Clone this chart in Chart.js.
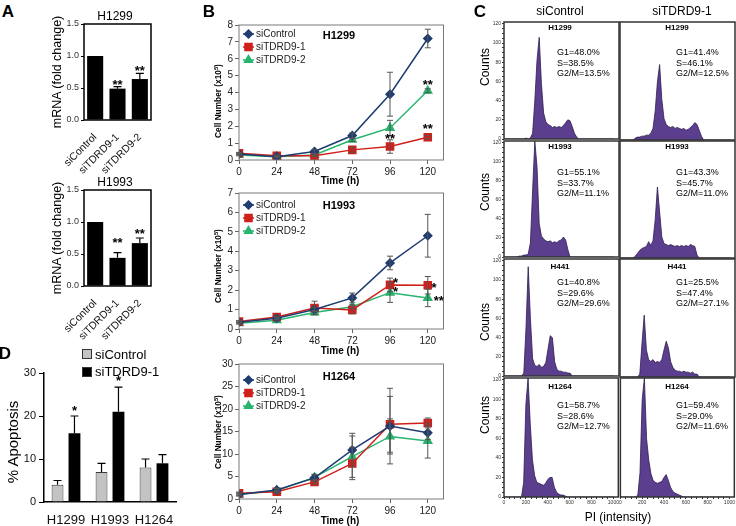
<!DOCTYPE html>
<html>
<head>
<meta charset="utf-8">
<script src="https://cdn.jsdelivr.net/npm/chart.js@4.4.1/dist/chart.umd.min.js"></script>
<style>
  html, body { margin: 0; background: #fff; }
  #page { position: relative; width: 736px; height: 526px; overflow: hidden; font-family: "Liberation Sans", Arial, sans-serif; color: #000; }
  .lbl { position: absolute; white-space: nowrap; line-height: 1; transform: translate(-50%, -50%); }
  .lbl sup { font-size: 70%; vertical-align: 0.5em; line-height: 0; }
  .sq { position: absolute; width: 8px; height: 8px; border: 1px solid #333; }
</style>
</head>
<body>
<div id="page"></div>
<script>
// ---- A: TDRD9 mRNA after knockdown ----
const mrnaLabels = ["siControl", "siTDRD9-1", "siTDRD9-2"];
const mrnaTicks = [0, 0.5, 1.0, 1.5];
const mrnaH1299 = [1.0, 0.49, 0.64];
const mrnaH1299Err = [0, 0.03, 0.09];
const mrnaH1993 = [1.0, 0.44, 0.67];
const mrnaH1993Err = [0, 0.08, 0.08];

// ---- B: growth curves (cell number x10^5) ----
const seriesNames = ["siControl", "siTDRD9-1", "siTDRD9-2"];
const timePoints = [0, 24, 48, 72, 96, 120];
const h1299Control = [0.35, 0.2, 0.5, 1.45, 3.9, 7.2];
const h1299ControlErr = [0.05, 0.05, 0.1, 0.15, 1.3, 0.55];
const h1299Si1 = [0.4, 0.25, 0.25, 0.6, 0.8, 1.35];
const h1299Si1Err = [0.05, 0.05, 0.05, 0.15, 0.4, 0.1];
const h1299Si2 = [0.3, 0.2, 0.3, 1.2, 1.9, 4.1];
const h1299Si2Err = [0.05, 0.05, 0.05, 0.1, 0.45, 0.12];

const h1993Control = [0.35, 0.55, 1.0, 1.6, 3.4, 4.8];
const h1993ControlErr = [0.05, 0.05, 0.1, 0.25, 0.35, 1.1];
const h1993Si1 = [0.38, 0.62, 1.08, 0.98, 2.27, 2.25];
const h1993Si1Err = [0.05, 0.05, 0.35, 0.2, 0.35, 0.45];
const h1993Si2 = [0.3, 0.45, 0.85, 1.15, 1.87, 1.6];
const h1993Si2Err = [0.05, 0.05, 0.1, 0.1, 0.5, 0.45];

const h1264Control = [1.0, 2.0, 4.7, 10.9, 16.2, 14.7];
const h1264ControlErr = [0.3, 0.4, 0.7, 3.7, 8.4, 1.5];
const h1264Si1 = [1.25, 1.6, 3.8, 7.9, 16.6, 16.9];
const h1264Si1Err = [0.3, 0.3, 0.5, 3.6, 6.2, 1.1];
const h1264Si2 = [1.0, 1.9, 4.8, 9.4, 13.9, 12.9];
const h1264Si2Err = [0.3, 0.4, 0.7, 4.6, 3.9, 3.8];

// ---- C: cell cycle histograms, counts per PI bin ----
const cellLines = ["H1299", "H1993", "H441", "H1264"];
const piBins = [0,20,40,60,80,100,120,140,160,180,200,220,240,260,280,300,320,340,360,380,400,420,440,460,480,500,
  520,540,560,580,600,620,640,660,680,700,720,740,760,780,800,820,840,860,880,900,920,940,960,980,1000];
const histH1299Ctrl = [0,0,0,0,0,0,0,0,0,0, 1,0,1,6,40,82,106,58,27,18, 15,14,12,13,12,13,12,14,17,20,
  19,13,6,2,0,0,0,0,0,0, 0,0,0,0,0,0,0,0,0,0, 0];
const histH1299Si = [0,0,0,0,0,0,0,2,3,3, 4,4,5,5,7,12,30,60,78,42, 22,16,14,13,14,12,13,12,11,12,
  10,11,13,15,18,16,10,4,0,0, 0,0,0,0,0,0,0,0,0,0, 0];
const histH1993Ctrl = [0,0,0,0,0,0,0,1,1,2, 2,3,15,70,122,95,35,22,19,17, 16,17,15,16,15,17,18,21,18,8,
  0,0,0,0,0,0,0,0,0,0, 0,0,0,0,0,0,0,0,0,0, 0];
const histH1993Si = [0,0,0,0,0,0,0,2,5,8, 10,11,12,17,13,18,40,74,48,22, 15,14,13,14,13,12,13,12,13,12,
  13,12,14,13,12,3,0,0,0,0, 0,0,0,0,0,0,0,0,0,0, 0];
const histH441Ctrl = [0,0,0,0,0,0,0,0,0,3, 50,114,60,18,11,10,12,9,10,14, 28,42,40,15,7,5,5,4,4,3,
  3,0,0,0,0,0,0,0,0,0, 0,0,0,0,0,0,0,0,0,0, 0];
const histH441Si = [0,0,0,0,0,0,0,0,0,3, 35,64,28,18,16,18,15,16,15,18, 28,37,30,16,10,7,6,6,5,6,
  5,5,4,5,3,3,0,0,0,0, 0,0,0,0,0,0,0,0,0,0, 0];
const histH1264Ctrl = [0,0,0,0,0,0,0,0,0,15, 95,122,75,38,22,15,14,13,12,14, 18,20,20,10,5,3,2,2,1,0,
  0,0,0,0,0,0,0,0,0,0, 0,0,0,0,0,0,0,0,0,0, 0];
const histH1264Si = [0,0,0,0,0,0,0,0,2,25, 100,122,60,38,24,17,15,14,15,16, 20,23,17,10,6,4,3,2,1,0,
  0,0,0,0,0,0,0,0,0,0, 0,0,0,0,0,0,0,0,0,0, 0];
const g1Ctrl = [48.0, 55.1, 40.8, 58.7];
const sCtrl = [38.5, 33.7, 29.6, 28.6];
const g2mCtrl = [13.5, 11.1, 29.6, 12.7];
const g1Si = [41.4, 43.3, 25.5, 59.4];
const sSi = [46.1, 45.7, 47.4, 29.0];
const g2mSi = [12.5, 11.0, 27.1, 11.6];

// ---- D: apoptosis ----
const apopLines = ["H1299", "H1993", "H1264"];
const apopCtrl = [4, 7, 8];
const apopCtrlErr = [1, 2, 2];
const apopSi = [16, 21, 9];
const apopSiErr = [4, 5.7, 2];

const FONT = '"Liberation Sans", Arial, sans-serif';
Chart.defaults.font.family = FONT;
Chart.defaults.color = '#111';
Chart.defaults.animation = false;
Chart.defaults.plugins.legend.display = false;
Chart.defaults.plugins.tooltip.enabled = false;

const page = document.getElementById('page');

// box around the plot area
const framePlugin = {
  id: 'frame',
  afterDatasetsDraw(chart, args, opts) {
    if (!opts.color) return;
    const a = chart.chartArea, ctx = chart.ctx;
    ctx.save();
    ctx.strokeStyle = opts.color;
    ctx.lineWidth = opts.width || 1;
    ctx.strokeRect(a.left, a.top, a.right - a.left, a.bottom - a.top);
    ctx.restore();
  }
};

const errorBarPlugin = {
  id: 'errorBars',
  afterDatasetsDraw(chart, args, opts) {
    if (!opts.cap) return;
    const ctx = chart.ctx, y = chart.scales.y;
    chart.data.datasets.forEach((ds, i) => {
      if (!ds.errors) return;
      const meta = chart.getDatasetMeta(i);
      ctx.save();
      ctx.strokeStyle = opts.color;
      ctx.lineWidth = opts.width;
      meta.data.forEach((el, j) => {
        const err = ds.errors[j];
        if (!err) return;
        const d = ds.data[j];
        const v = typeof d === 'object' ? d.y : d;
        const top = y.getPixelForValue(v + err);
        const bottom = y.getPixelForValue(opts.upOnly ? v : v - err);
        ctx.beginPath();
        ctx.moveTo(el.x, bottom); ctx.lineTo(el.x, top);
        ctx.moveTo(el.x - opts.cap, top); ctx.lineTo(el.x + opts.cap, top);
        if (!opts.upOnly) { ctx.moveTo(el.x - opts.cap, bottom); ctx.lineTo(el.x + opts.cap, bottom); }
        ctx.stroke();
      });
      ctx.restore();
    });
  }
};

// significance asterisks, placed in data units
const starPlugin = {
  id: 'stars',
  afterDraw(chart, args, opts) {
    if (!opts.items) return;
    const ctx = chart.ctx, size = opts.size || 13;
    ctx.save();
    ctx.font = `bold ${size}px ${FONT}`;
    ctx.fillStyle = '#000';
    ctx.textAlign = 'center';
    ctx.textBaseline = 'alphabetic';
    opts.items.forEach(s => {
      const x = s.ds !== undefined ? chart.getDatasetMeta(s.ds).data[s.i].x : chart.scales.x.getPixelForValue(s.x);
      const y = chart.scales.y.getPixelForValue(s.y);
      ctx.fillText(s.text, x, y + size * 0.55);
    });
    ctx.restore();
  }
};

// legend drawn inside the plot area (panel B)
const lineLegendPlugin = {
  id: 'lineLegend',
  afterDraw(chart, args, opts) {
    if (opts.top === undefined) return;
    const ctx = chart.ctx, a = chart.chartArea;
    ctx.save();
    ctx.font = `10px ${FONT}`;
    ctx.textBaseline = 'middle';
    chart.data.datasets.forEach((ds, k) => {
      const y = a.top + opts.top + k * opts.gap;
      const x0 = a.left + opts.left;
      ctx.strokeStyle = ds.borderColor;
      ctx.lineWidth = 1.5;
      ctx.beginPath(); ctx.moveTo(x0, y); ctx.lineTo(x0 + 11, y); ctx.stroke();
      ctx.fillStyle = ds.borderColor;
      Chart.helpers.drawPoint(ctx, { pointStyle: ds.pointStyle, radius: ds.pointRadius, rotation: 0, borderWidth: 1 }, x0 + 5.5, y);
      ctx.fillStyle = '#222';
      ctx.fillText(ds.label, x0 + 13, y);
    });
    ctx.restore();
  }
};

Chart.register(framePlugin, errorBarPlugin, starPlugin, lineLegendPlugin);

// put a chart on the page so that its plot area lands on `area` ([l, t, r, b])
function place(box, area, cfg) {
  const [bl, bt, bw, bh] = box;
  const [al, at, ar, ab] = area;
  const wrap = document.createElement('div');
  wrap.style.cssText = `position:absolute;left:${bl}px;top:${bt}px;width:${bw}px;height:${bh}px`;
  const cv = document.createElement('canvas');
  cv.width = bw; cv.height = bh;
  wrap.appendChild(cv);
  page.appendChild(wrap);
  const sx = cfg.options.scales.x, sy = cfg.options.scales.y;
  const yw = al - bl, xh = bt + bh - ab;
  const pad = { top: at - bt, right: bl + bw - ar, left: 0, bottom: 0 };
  if (sy.display === false) pad.left = yw; else sy.afterFit = s => { s.width = yw; };
  if (sx.display === false) pad.bottom = xh; else sx.afterFit = s => { s.height = xh; };
  cfg.options.layout = { padding: pad };
  cfg.options.responsive = false;
  cfg.options.devicePixelRatio = 1;
  return new Chart(cv, cfg);
}

function label(html, x, y, size, extra) {
  const d = document.createElement('div');
  d.className = 'lbl';
  d.innerHTML = html;
  d.style.left = x + 'px';
  d.style.top = y + 'px';
  d.style.fontSize = size + 'px';
  if (extra) Object.assign(d.style, extra);
  page.appendChild(d);
}
function vlabel(html, x, y, size, extra) {
  label(html, x, y, size, Object.assign({ transform: 'translate(-50%, -50%) rotate(-90deg)' }, extra || {}));
}

// ---------- A ----------
function mrnaChart(box, area, values, errs, stars) {
  return place(box, area, {
    type: 'bar',
    data: { labels: mrnaLabels, datasets: [{ data: values, errors: errs, backgroundColor: '#000', barPercentage: 0.72, categoryPercentage: 1 }] },
    options: {
      scales: {
        x: { grid: { display: false }, border: { display: false },
             ticks: { font: { size: 10.5 }, color: '#111', minRotation: 45, maxRotation: 45, padding: 3 } },
        y: { min: 0, max: 1.5,
             afterBuildTicks: s => { s.ticks = mrnaTicks.map(v => ({ value: v })); },
             ticks: { font: { size: 9 }, color: '#333', padding: 2, callback: v => v.toFixed(1) },
             grid: { drawOnChartArea: false, tickLength: 3, color: '#000' }, border: { display: false } }
      },
      plugins: {
        frame: { color: '#000', width: 1.5 },
        errorBars: { color: '#000', width: 1.2, cap: 4, upOnly: true },
        stars: { items: stars, size: 13 }
      }
    }
  });
}
mrnaChart([40, 4, 125, 176], [84, 24, 151, 120], mrnaH1299, mrnaH1299Err,
  [{ ds: 0, i: 1, y: 0.6, text: '**' }, { ds: 0, i: 2, y: 0.81, text: '**' }]);
mrnaChart([40, 170, 125, 180], [84, 190, 151, 286], mrnaH1993, mrnaH1993Err,
  [{ ds: 0, i: 1, y: 0.72, text: '**' }, { ds: 0, i: 2, y: 0.86, text: '**' }]);

label('<b>A</b>', 8, 11, 17);
label('H1299', 115, 16, 12);
label('H1993', 115, 182, 12);
vlabel('mRNA (fold change)', 57, 72, 12.5);
vlabel('mRNA (fold change)', 57, 238, 12.5);

// ---------- B ----------
const growthStyles = [
  { color: '#1f3d70', pointStyle: 'rectRot', pointRadius: 4 },
  { color: '#d0201b', pointStyle: 'rect', pointRadius: 5 },
  { color: '#27b46e', pointStyle: 'triangle', pointRadius: 4.5 }
];
function growthChart(box, area, yMax, yStep, series, errs, stars, legendTop) {
  const datasets = series.map((vals, k) => ({
    label: seriesNames[k],
    data: timePoints.map((t, j) => ({ x: t, y: vals[j] })),
    errors: errs[k],
    borderColor: growthStyles[k].color,
    backgroundColor: growthStyles[k].color,
    pointStyle: growthStyles[k].pointStyle,
    pointRadius: growthStyles[k].pointRadius,
    borderWidth: 1.5,
    tension: 0
  }));
  return place(box, area, {
    type: 'line',
    data: { datasets },
    options: {
      scales: {
        x: { type: 'linear', min: 0, max: 130,
             afterBuildTicks: s => { s.ticks = timePoints.map(v => ({ value: v })); },
             ticks: { font: { size: 10 }, color: '#222', padding: 2, maxRotation: 0 },
             grid: { drawOnChartArea: false, tickLength: 4, color: '#666' }, border: { display: false } },
        y: { min: 0, max: yMax,
             ticks: { stepSize: yStep, font: { size: 10 }, color: '#222', padding: 2 },
             grid: { drawOnChartArea: false, tickLength: 4, color: '#666' }, border: { display: false } }
      },
      plugins: {
        frame: { color: '#7a7a7a', width: 1 },
        errorBars: { color: '#555', width: 1, cap: 3 },
        stars: { items: stars, size: 13 },
        lineLegend: { top: legendTop, left: 4, gap: 13 }
      }
    }
  });
}
growthChart([200, 8, 250, 182], [239, 25, 446, 160], 8, 1,
  [h1299Control, h1299Si1, h1299Si2], [h1299ControlErr, h1299Si1Err, h1299Si2Err],
  [{ x: 96, y: 1.45, text: '**' }, { x: 120, y: 4.65, text: '**' }, { x: 120, y: 2.0, text: '**' }], 9);
growthChart([200, 178, 250, 180], [239, 193, 446, 329], 7, 1,
  [h1993Control, h1993Si1, h1993Si2], [h1993ControlErr, h1993Si1Err, h1993Si2Err],
  [{ x: 99.5, y: 2.52, text: '*' }, { x: 99.5, y: 2.06, text: '*' }, { x: 124, y: 2.27, text: '*' }, { x: 127, y: 1.6, text: '**' }], 12);
growthChart([200, 348, 250, 176], [239, 364, 446, 499], 30, 5,
  [h1264Control, h1264Si1, h1264Si2], [h1264ControlErr, h1264Si1Err, h1264Si2Err], [], 16);

label('<b>B</b>', 209, 11, 17);
label('<b>H1299</b>', 339, 35, 11);
label('<b>H1993</b>', 339, 205, 11);
label('<b>H1264</b>', 339, 376, 11);
[101, 266, 432].forEach(y => vlabel('<b>Cell Number (x10<sup>5</sup>)</b>', 218, y, 8.3));
[181, 351, 521].forEach(y => label('<b>Time (h)</b>', 340, y, 10));

// ---------- C ----------
function histChart(box, area, counts, showY, showX) {
  return place(box, area, {
    type: 'line',
    data: { datasets: [{ data: piBins.map((x, i) => ({ x, y: counts[i] })), fill: 'origin',
      backgroundColor: '#5b3f8e', borderColor: '#2d1d4e', borderWidth: 0.8, pointRadius: 0, tension: 0 }] },
    options: {
      scales: {
        x: { type: 'linear', min: 0, max: 1045, display: showX,
             ticks: { stepSize: 50, includeBounds: false, autoSkip: false, maxRotation: 0, font: { size: 5 }, color: '#333', padding: 1,
                      callback: v => (v % 200 === 0 ? v : '') },
             grid: { drawOnChartArea: false, tickLength: 2, color: '#333' }, border: { display: false } },
        y: { min: 0, max: 122, display: showY,
             ticks: { stepSize: 5, includeBounds: false, autoSkip: false, font: { size: 5 }, color: '#333', padding: 1,
                      callback: v => (v % 20 === 0 ? v : '') },
             grid: { drawOnChartArea: false, tickLength: 2, color: '#333' }, border: { display: false } }
      },
      plugins: { frame: { color: '#333', width: 1.5 } }
    }
  });
}
const histControl = [histH1299Ctrl, histH1993Ctrl, histH441Ctrl, histH1264Ctrl];
const histSi = [histH1299Si, histH1993Si, histH441Si, histH1264Si];
const histRows = [[22, 140], [141, 258], [259, 377], [378, 497]];
const statTop = [52, 172, 282, 405];
const titleTop = [28, 147, 267, 387];
const countsY = [67, 192, 322, 415];
cellLines.forEach((name, r) => {
  const [top, bottom] = histRows[r];
  const h = bottom - top + 4 + (r === 3 ? 12 : 3);
  histChart([488, top - 4, 132, h], [504, top, 619, bottom], histControl[r], true, r === 3);
  histChart([618, top - 4, 118, h], [620, top, 735, bottom], histSi[r], false, r === 3);
  label('<b>' + name + '</b>', 560, titleTop[r], 8);
  label('<b>' + name + '</b>', 677, titleTop[r], 8);
  const left = { transform: 'translate(0, -50%)' };
  label('G1=' + g1Ctrl[r].toFixed(1) + '%', 557, statTop[r], 9, left);
  label('S=' + sCtrl[r].toFixed(1) + '%', 557, statTop[r] + 10.5, 9, left);
  label('G2/M=' + g2mCtrl[r].toFixed(1) + '%', 557, statTop[r] + 21, 9, left);
  label('G1=' + g1Si[r].toFixed(1) + '%', 676, statTop[r], 9, left);
  label('S=' + sSi[r].toFixed(1) + '%', 676, statTop[r] + 10.5, 9, left);
  label('G2/M=' + g2mSi[r].toFixed(1) + '%', 676, statTop[r] + 21, 9, left);
  vlabel('Counts', 485, countsY[r], 12);
});
label('<b>C</b>', 480, 11, 17);
label('siControl', 560, 11, 12);
label('siTDRD9-1', 682, 11, 12);
label('PI (intensity)', 618, 517, 12);

// ---------- D ----------
place([0, 360, 190, 166], [44, 373, 176, 502], {
  type: 'bar',
  data: { labels: apopLines, datasets: [
    { label: 'siControl', data: apopCtrl, errors: apopCtrlErr, backgroundColor: '#c3c3c3', borderColor: '#3a3a3a', borderWidth: 1, barPercentage: 0.7, categoryPercentage: 0.77 },
    { label: 'siTDRD9-1', data: apopSi, errors: apopSiErr, backgroundColor: '#000', barPercentage: 0.7, categoryPercentage: 0.77 }
  ] },
  options: {
    scales: {
      x: { grid: { display: false }, border: { color: '#000', width: 1.5 },
           ticks: { font: { size: 13 }, color: '#111', padding: 3, minRotation: 0, maxRotation: 0, autoSkip: false } },
      y: { min: 0, max: 30, ticks: { stepSize: 10, font: { size: 11 }, color: '#111', padding: 3 },
           grid: { drawOnChartArea: false, tickLength: 5, color: '#000' }, border: { color: '#000', width: 1.5 } }
    },
    plugins: {
      errorBars: { color: '#000', width: 1.2, cap: 4, upOnly: true },
      stars: { items: [{ ds: 1, i: 0, y: 21.8, text: '*' }, { ds: 1, i: 1, y: 28.8, text: '*' }], size: 13 }
    }
  }
});
label('<b>D</b>', 5, 353, 17);
vlabel('% Apoptosis', 12, 442, 15);
const sq1 = document.createElement('div');
sq1.className = 'sq'; sq1.style.cssText = 'left:82px;top:349px;background:#c3c3c3';
page.appendChild(sq1);
const sq2 = document.createElement('div');
sq2.className = 'sq'; sq2.style.cssText = 'left:82px;top:367px;background:#000';
page.appendChild(sq2);
label('siControl', 95, 354, 13, { transform: 'translate(0, -50%)' });
label('siTDRD9-1', 95, 371, 13, { transform: 'translate(0, -50%)' });
</script>
</body>
</html>
